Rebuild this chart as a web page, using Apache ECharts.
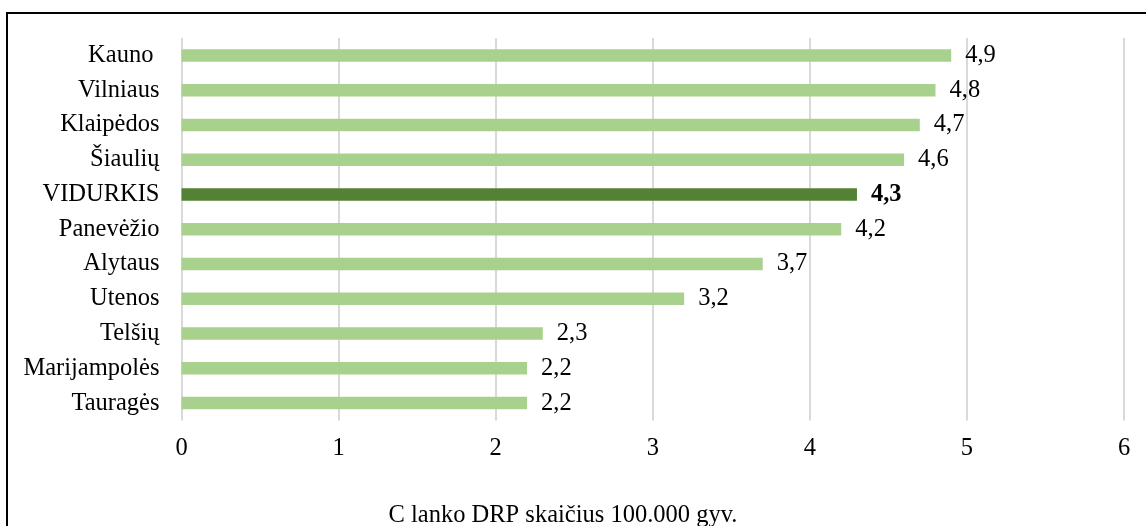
<!DOCTYPE html>
<html>
<head>
<meta charset="utf-8">
<script src="https://cdn.jsdelivr.net/npm/echarts@6/dist/echarts.min.js"></script>
<style>
  html, body { margin: 0; padding: 0; background: #fff; }
  #chart { width: 1146px; height: 526px; }
</style>
</head>
<body>
<div id="chart"></div>
<script>
// Regions, listed top to bottom
const categories = ['Kauno ', 'Vilniaus', 'Klaipėdos', 'Šiaulių', 'VIDURKIS', 'Panevėžio', 'Alytaus', 'Utenos', 'Telšių', 'Marijampolės', 'Tauragės'];
const values = [4.9, 4.8, 4.7, 4.6, 4.3, 4.2, 3.7, 3.2, 2.3, 2.2, 2.2];
const highlightCategory = 'VIDURKIS';
const xTicks = [0, 1, 2, 3, 4, 5, 6];
const axisTitle = 'C lanko DRP skaičius 100.000 gyv.';

const FONT = '"Liberation Serif", "Times New Roman", serif';
const FS = 24.5;
const LIGHT = '#A9D18E';
const DARK = '#548235';

const chart = echarts.init(document.getElementById('chart'), null, { renderer: 'canvas' });

const fmt = v => String(v).replace('.', ',');

const barData = values.map((v, i) => {
  const avg = categories[i] === highlightCategory;
  return {
    value: v,
    itemStyle: { color: avg ? DARK : LIGHT },
    label: { fontWeight: avg ? 'bold' : 'normal' }
  };
});

chart.setOption({
  animation: false,
  backgroundColor: '#fff',
  title: {
    text: axisTitle,
    left: 558,
    top: 498,
    textAlign: 'center',
    textStyle: { fontFamily: FONT, fontSize: FS, fontWeight: 'normal', color: '#000' }
  },
  graphic: [{
    type: 'rect',
    shape: { x: 7, y: 13, width: 1300, height: 700 },
    style: { fill: 'none', stroke: '#000', lineWidth: 2 },
    silent: true,
    z: 100
  }],
  grid: { left: 181.5, right: 22, top: 38, bottom: 105.5, containLabel: false },
  xAxis: {
    type: 'value',
    min: xTicks[0],
    max: xTicks[xTicks.length - 1],
    interval: 1,
    axisLine: { show: false },
    axisTick: { show: false },
    axisLabel: {
      fontFamily: FONT, fontSize: FS, color: '#000', margin: 16,
      formatter: v => xTicks.includes(v) ? String(v) : ''
    },
    splitLine: { show: true, lineStyle: { color: '#D9D9D9', width: 2 } }
  },
  yAxis: {
    type: 'category',
    data: categories,
    inverse: true,
    axisLine: { show: false },
    axisTick: { show: false },
    axisLabel: { fontFamily: FONT, fontSize: FS, color: '#000', margin: 22 },
    splitLine: { show: false }
  },
  series: [{
    type: 'bar',
    data: barData,
    barWidth: 12.5,
    label: {
      show: true,
      position: 'right',
      distance: 14,
      fontFamily: FONT,
      fontSize: FS,
      color: '#000',
      formatter: p => fmt(p.value)
    }
  }]
});
</script>
</body>
</html>
